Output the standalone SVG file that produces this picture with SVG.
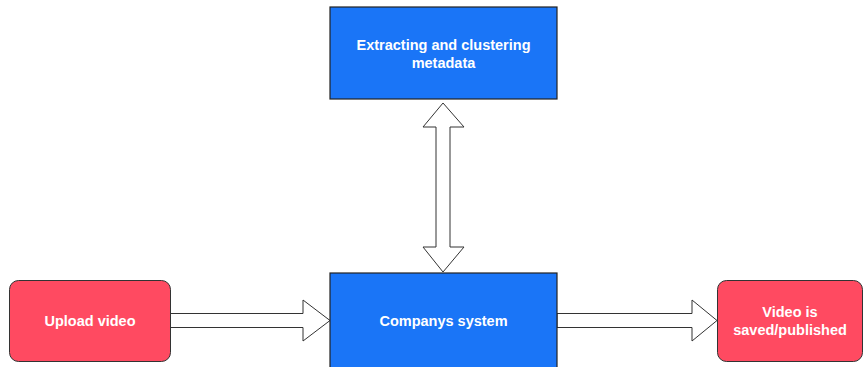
<svg xmlns="http://www.w3.org/2000/svg" width="867" height="367" viewBox="0 0 867 367">
<style>
.blue{fill:#1a75f7;stroke:#222;stroke-width:1.2}
.red{fill:#ff4a61;stroke:#333;stroke-width:1}
.lbl{font-family:"Liberation Sans",Arial,sans-serif;font-size:14.5px;font-weight:bold;fill:#fff;text-anchor:middle}
.arr{fill:#fff;stroke:#333;stroke-width:1;stroke-linejoin:miter}
</style>
<rect width="867" height="367" fill="#fff"/>
<g id="connectors">
<path class="arr" d="M170,313.5 H303 V300 L330,320.5 L303,341 V327.5 H170 Z"/>
<path class="arr" d="M557,313.5 H692 V300 L717,320.5 L692,341 V327.5 H557 Z"/>
<path class="arr" d="M443,103 L464,127 H450 V247 H464 L443,272 L423,247 H436 V127 H423 Z"/>
</g>
<g id="extract">
<rect class="blue" x="330" y="7" width="227" height="92"/>
<text class="lbl" x="443.5" y="50">Extracting and clustering</text>
<text class="lbl" x="443.5" y="68">metadata</text>
</g>
<g id="company">
<rect class="blue" x="330" y="273" width="227" height="96"/>
<text class="lbl" x="443.5" y="326">Companys system</text>
</g>
<g id="upload">
<rect class="red" x="9.5" y="280.5" width="161" height="81" rx="9"/>
<text class="lbl" x="90" y="326">Upload video</text>
</g>
<g id="saved">
<rect class="red" x="717.5" y="280.5" width="145" height="81" rx="9"/>
<text class="lbl" x="790" y="317">Video is</text>
<text class="lbl" x="790" y="335">saved/published</text>
</g>
</svg>
